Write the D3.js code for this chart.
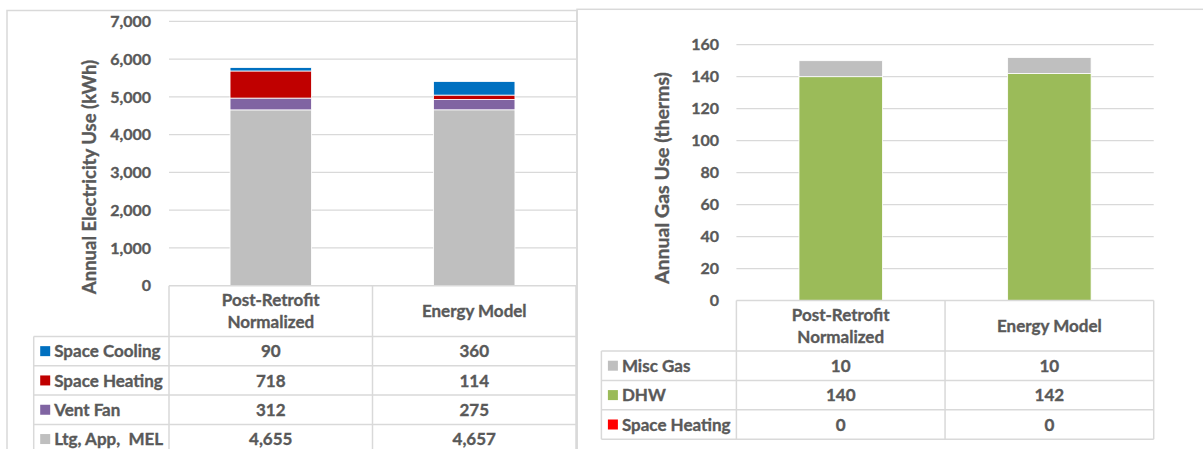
<!DOCTYPE html>
<html lang="en">
<head>
    <meta charset="UTF-8">
    <title>energy-use</title>
    <style>
        body {
            margin: 0;
            background: #fff;
            font-family: Lato, "Open Sans", sans-serif;
        }
        text {
            font-weight: bold;
            fill: #595959;
            stroke: #595959;
            stroke-width: 0.35px;
            white-space: pre;
        }
    </style>
    <script src="https://d3js.org/d3.v7.min.js"></script>
</head>
<body>

<script>

    // data
    let categories = ["Post-Retrofit|Normalized", "Energy Model"]

    let elecSeries = ["Space Cooling", "Space Heating", "Vent Fan", "Ltg, App,  MEL"]
    let elecColors = ["#0070c0", "#c00000", "#8064a2", "#bfbfbf"]
    let elecCooling = [90, 360]
    let elecHeating = [718, 114]
    let elecVent = [312, 275]
    let elecLighting = [4655, 4657]
    let elecTicks = [0, 1000, 2000, 3000, 4000, 5000, 6000, 7000]

    let gasSeries = ["Misc Gas", "DHW", "Space Heating"]
    let gasColors = ["#bfbfbf", "#9bbb59", "#ff0000"]
    let gasMisc = [10, 10]
    let gasDhw = [140, 142]
    let gasHeating = [0, 0]
    let gasTicks = [0, 20, 40, 60, 80, 100, 120, 140, 160]

    let gridColor = "#d9d9d9"
    let width = 1203;
    let height = 449;

    let svg = d3.select("body").append("svg")
        .attr("width", width)
        .attr("height", height)

    // panel frames
    svg.append("rect")
        .attr("x", 7).attr("y", 10.5)
        .attr("width", 570).attr("height", 500)
        .attr("fill", "none").attr("stroke", gridColor).attr("stroke-width", 1.5)
    svg.append("rect")
        .attr("x", 577).attr("y", 9.3)
        .attr("width", 700).attr("height", 500)
        .attr("fill", "none").attr("stroke", gridColor).attr("stroke-width", 1.5)

    function drawPanel(p) {
        let g = svg.append("g")

        let x = d3.scaleBand()
            .domain(categories)
            .range([p.x0, p.x1])
            .paddingInner(0.6)
            .paddingOuter(0.3)

        let y = d3.scaleLinear()
            .domain([0, d3.max(p.ticks)])
            .range([p.yBottom, p.yTop])

        // gridlines
        g.selectAll(".grid")
            .data(p.ticks.slice(1))
            .enter()
            .append("line")
            .attr("x1", p.x0).attr("x2", p.x1)
            .attr("y1", d => y(d)).attr("y2", d => y(d))
            .attr("stroke", gridColor).attr("stroke-width", 1.2)

        // tick labels
        g.selectAll(".tick")
            .data(p.ticks)
            .enter()
            .append("text")
            .attr("x", p.tickX)
            .attr("y", d => y(d))
            .attr("dy", "0.36em")
            .attr("text-anchor", "end")
            .style("font-size", "16px")
            .text(d => d3.format(",")(d))

        // axis title
        g.append("text")
            .attr("transform", "translate(" + p.titleX + "," + p.titleY + ") rotate(-90)")
            .attr("text-anchor", "middle")
            .attr("dy", "0.36em")
            .style("font-size", p.titleSize)
            .text(p.title)

        // stacked bars, drawn bottom series first
        let rows = categories.map((c, i) => {
            let o = {cat: c}
            p.names.forEach((n, k) => o[n] = p.values[k][i])
            return o
        })
        let order = p.names.slice().reverse()
        let stack = d3.stack().keys(order)(rows)

        g.selectAll(".layer")
            .data(stack)
            .enter()
            .append("g")
            .attr("fill", d => p.colors[p.names.indexOf(d.key)])
            .selectAll("rect")
            .data(d => d)
            .enter()
            .append("rect")
            .attr("x", d => x(d.data.cat))
            .attr("width", x.bandwidth())
            .attr("y", d => y(d[1]))
            .attr("height", d => Math.max(0, y(d[0]) - y(d[1])))
            .attr("stroke", d => (d[1] - d[0]) > 0 ? "#fff" : "none")
            .attr("stroke-width", 0.8)

        // data table
        let mid = (p.x0 + p.x1) / 2
        let bottom = p.headerBottom + p.names.length * p.rowH
        let hl = [p.yBottom].concat(d3.range(p.names.length + 1).map(k => p.headerBottom + k * p.rowH))
        g.selectAll(".hline")
            .data(hl)
            .enter()
            .append("line")
            .attr("x1", (d, i) => i === 0 ? p.x0 : p.tableX)
            .attr("x2", p.x1)
            .attr("y1", d => d).attr("y2", d => d)
            .attr("stroke", gridColor).attr("stroke-width", 1.5)

        let vl = [[p.tableX, p.headerBottom], [p.x0, p.yBottom], [mid, p.yBottom], [p.x1, p.yBottom]]
        g.selectAll(".vline")
            .data(vl)
            .enter()
            .append("line")
            .attr("x1", d => d[0]).attr("x2", d => d[0])
            .attr("y1", d => d[1]).attr("y2", bottom)
            .attr("stroke", gridColor).attr("stroke-width", 1.5)

        // header labels
        let colCenters = [(p.x0 + mid) / 2, (mid + p.x1) / 2]
        let hc = (p.yBottom + p.headerBottom) / 2
        categories.forEach((c, i) => {
            let lines = c.split("|")
            lines.forEach((t, j) => {
                g.append("text")
                    .attr("x", colCenters[i])
                    .attr("y", hc + (j - (lines.length - 1) / 2) * 21.5)
                    .attr("dy", "0.36em")
                    .attr("text-anchor", "middle")
                    .style("font-size", "17px")
                    .text(t)
            })
        })

        // rows: legend key, name, values
        p.names.forEach((n, k) => {
            let cy = p.headerBottom + (k + 0.5) * p.rowH
            g.append("rect")
                .attr("x", p.tableX + 6.5).attr("y", cy - 5)
                .attr("width", 10).attr("height", 10)
                .attr("fill", p.colors[k])
            g.append("text")
                .attr("x", p.tableX + 20.5)
                .attr("y", cy)
                .attr("dy", "0.36em")
                .style("font-size", "17px")
                .text(n)
            p.values[k].forEach((v, i) => {
                g.append("text")
                    .attr("x", colCenters[i])
                    .attr("y", cy)
                    .attr("dy", "0.36em")
                    .attr("text-anchor", "middle")
                    .style("font-size", "17px")
                    .text(d3.format(",")(v))
            })
        })
    }

    drawPanel({
        names: elecSeries,
        colors: elecColors,
        values: [elecCooling, elecHeating, elecVent, elecLighting],
        ticks: elecTicks,
        title: "Annual Electricity Use (kWh)",
        titleSize: "18.5px",
        x0: 169, x1: 576,
        yTop: 21.3, yBottom: 285.7,
        tickX: 151,
        titleX: 89, titleY: 177,
        tableX: 33.7,
        headerBottom: 336.5, rowH: 29.3
    })

    drawPanel({
        names: gasSeries,
        colors: gasColors,
        values: [gasMisc, gasDhw, gasHeating],
        ticks: gasTicks,
        title: "Annual Gas Use (therms)",
        titleSize: "19.5px",
        x0: 736.4, x1: 1153.7,
        yTop: 44.7, yBottom: 300.5,
        tickX: 719,
        titleX: 662, titleY: 178,
        tableX: 601.4,
        headerBottom: 351, rowH: 29.4
    })

</script>

</body>
</html>
